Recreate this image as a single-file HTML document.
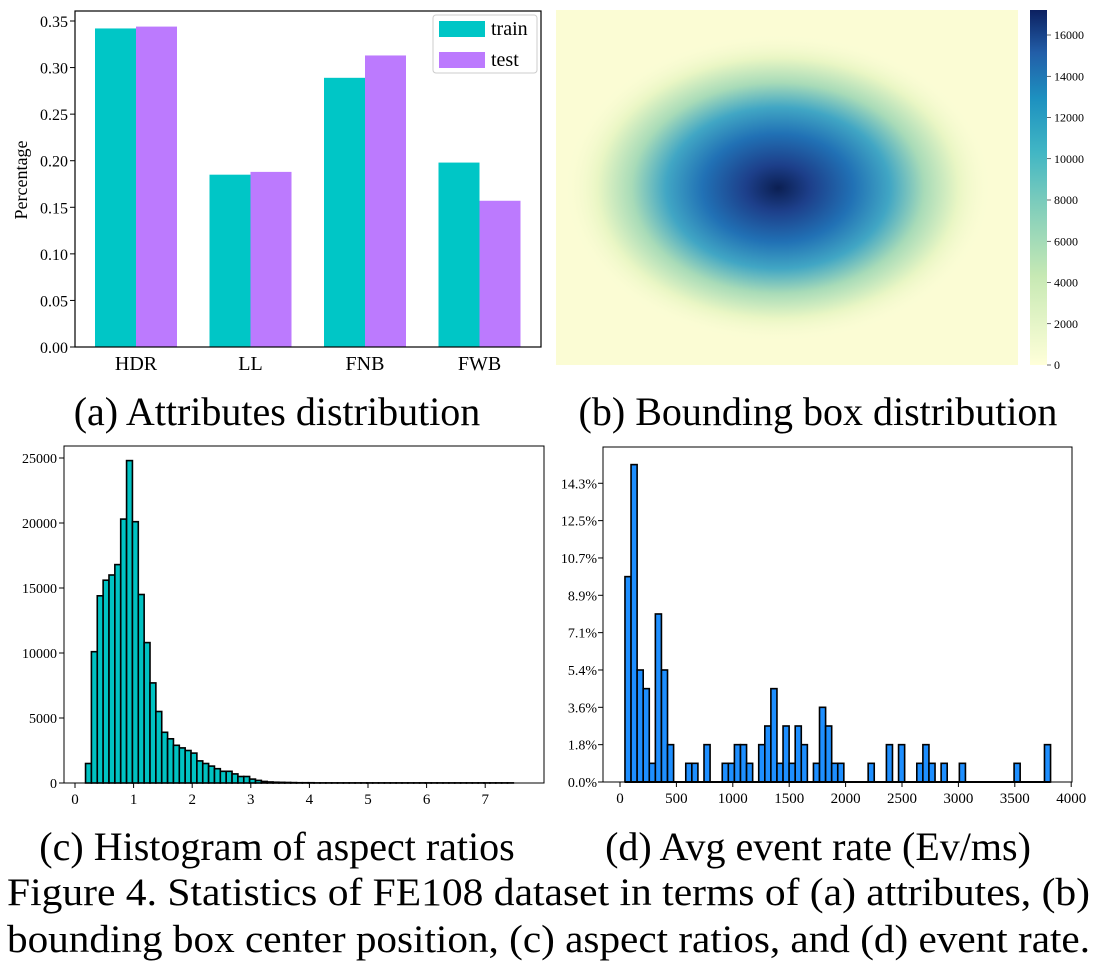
<!DOCTYPE html>
<html><head><meta charset="utf-8"><style>
body{margin:0;background:#fff;width:1099px;height:966px;overflow:hidden}
svg{font-family:"Liberation Serif",serif}
</style></head><body>
<svg id="s" width="1099" height="966">
<defs>
<radialGradient id="hm" cx="0.5" cy="0.5" r="0.5">
<stop offset="0" stop-color="#0b1f52"/><stop offset="0.15" stop-color="#1d3f8a"/>
<stop offset="0.35" stop-color="#2171b5"/><stop offset="0.52" stop-color="#41a6c4"/>
<stop offset="0.68" stop-color="#a8dbb8"/><stop offset="0.84" stop-color="#e9f6c4"/>
<stop offset="1" stop-color="#fbfcd6" stop-opacity="0"/></radialGradient>
<linearGradient id="cb" x1="0" y1="1" x2="0" y2="0">
<stop offset="0" stop-color="#ffffd9"/><stop offset="0.25" stop-color="#c7e9b4"/>
<stop offset="0.45" stop-color="#7fcdbb"/><stop offset="0.6" stop-color="#41b6c4"/>
<stop offset="0.75" stop-color="#1d91c0"/><stop offset="0.88" stop-color="#225ea8"/>
<stop offset="1" stop-color="#0c2060"/></linearGradient>
</defs>
<g id="pa"></g>
<g>
<rect x="556" y="10" width="462" height="355" fill="#fbfcd4"/>
<ellipse cx="778" cy="188" rx="215" ry="155" fill="url(#hm)"/>
<rect x="1030" y="10" width="17" height="355" fill="url(#cb)"/>
</g>
<g id="cbt"></g>
<g id="pc"></g>
<g id="pd"></g>
<g font-size="40" text-anchor="middle">
<text x="277" y="425">(a) Attributes distribution</text>
<text x="818" y="425">(b) Bounding box distribution</text>
<text x="277" y="860">(c) Histogram of aspect ratios</text>
<text x="818" y="860">(d) Avg event rate (Ev/ms)</text>
</g>
<g font-size="39">
<text x="7" y="905" textLength="1083" lengthAdjust="spacingAndGlyphs">Figure 4. Statistics of FE108 dataset in terms of (a) attributes, (b)</text>
<text x="7" y="952" textLength="1083" lengthAdjust="spacingAndGlyphs">bounding box center position, (c) aspect ratios, and (d) event rate.</text>
</g>
</svg>
<script>
const catsA=["HDR","LL","FNB","FWB"];
const trainA=[0.342,0.185,0.289,0.198];
const testA=[0.344,0.188,0.313,0.157];
const ticksA=[0,0.05,0.1,0.15,0.2,0.25,0.3,0.35];
const cbTicks=[0,2000,4000,6000,8000,10000,12000,14000,16000];
const histC=[1.5,10.1,14.4,15.6,16.0,16.8,20.3,24.8,20.1,14.5,10.8,7.7,5.5,3.9,3.4,2.9,2.7,2.5,2.3,1.7,1.5,1.3,1.1,0.9,0.9,0.7,0.5,0.5,0.3,0.2,0.12,0.08,0.06,0.05,0.04,0.03,0.02,0.02,0.02,0.01,0.01,0.01,0.01,0.01,0.01,0.01,0.01,0.01,0.01,0.01,0.01,0.01,0.01,0.01,0.01,0.01,0.01,0.01,0.01,0.01,0.01,0.01,0.01,0.01,0.01,0.01,0.01,0.01,0.01,0.01,0.01,0.01,0.01];
const ticksCx=[0,1,2,3,4,5,6,7];
const ticksCy=[0,5000,10000,15000,20000,25000];
const countsD=[11,17,6,5,1,9,6,2,0,0,1,1,0,2,0,0,1,1,2,2,1,0,2,3,5,1,3,1,3,2,0,1,4,3,1,1,0,0,0,0,1,0,0,2,0,2,0,0,1,2,1,0,1,0,0,1,0,0,0,0,0,0,0,0,1,0,0,0,0,2];
const ticksDx=[0,500,1000,1500,2000,2500,3000,3500,4000];
const ticksDy=["0.0%","1.8%","3.6%","5.4%","7.1%","8.9%","10.7%","12.5%","14.3%"];
const NS="http://www.w3.org/2000/svg";
function mk(p,t,a,txt){const e=document.createElementNS(NS,t);for(const k in a)e.setAttribute(k,a[k]);if(txt!==undefined)e.textContent=txt;p.appendChild(e);return e;}
// (a)
const pa=document.getElementById('pa');
const ya=v=>347-v*(347-21)/0.35;
const xa=i=>136+i*114.5;
catsA.forEach((c,i)=>{
 let r=mk(pa,'rect',{x:xa(i)-41,y:ya(trainA[i]),width:41,height:347-ya(trainA[i]),fill:'#00c6c6'});
 
 
 r=mk(pa,'rect',{x:xa(i),y:ya(testA[i]),width:41,height:347-ya(testA[i]),fill:'#bc7afe'});
 
 
 const t=mk(pa,'text',{x:xa(i),y:370,'font-size':20,'text-anchor':'middle'},c);
 
 
});
mk(pa,'rect',{x:75,y:11,width:466,height:336,fill:'none',stroke:'#000','stroke-width':1.2});
ticksA.forEach(v=>{mk(pa,'line',{x1:70,x2:75,y1:ya(v),y2:ya(v),stroke:'#000'});
 const t=mk(pa,'text',{x:68,y:ya(v)+6,'font-size':16,'text-anchor':'end'},v.toFixed(2));
 
 });
const yt=mk(pa,'text',{x:0,y:0,'font-size':18,'text-anchor':'middle',transform:'translate(27,180) rotate(-90)'},'Percentage');


const lg=mk(pa,'g',{});


mk(lg,'rect',{x:433,y:15,width:104,height:58,fill:'#fff',stroke:'#ccc',rx:3});
mk(lg,'rect',{x:439,y:21,width:46,height:16,fill:'#00c6c6'});
mk(lg,'rect',{x:439,y:52,width:46,height:16,fill:'#bc7afe'});
mk(lg,'text',{x:491,y:35,'font-size':20},'train');
mk(lg,'text',{x:491,y:66,'font-size':20},'test');
// colorbar
const cbt=document.getElementById('cbt');
cbTicks.forEach(v=>{const y=365-v*(330/16000);
 mk(cbt,'line',{x1:1047,x2:1051,y1:y,y2:y,stroke:'#000','stroke-width':0.6});
 const t=mk(cbt,'text',{x:1054,y:y+4,'font-size':12},v);
 
 });
// (c)
const pc=document.getElementById('pc');
const xc=v=>75+v*58.6, yc=v=>783-v*1000*(325/25000);
histC.forEach((h,i)=>{const x0=0.18+i*0.1;
 const r=mk(pc,'rect',{x:xc(x0),y:yc(h),width:58.6*0.1,height:783-yc(h),fill:'#00c2c2',stroke:'#000','stroke-width':1.6});
 
 });
mk(pc,'rect',{x:64,y:446,width:480,height:337,fill:'none',stroke:'#000','stroke-width':1});
ticksCx.forEach(v=>{mk(pc,'line',{x1:xc(v),x2:xc(v),y1:783,y2:788,stroke:'#000'});
 const t=mk(pc,'text',{x:xc(v),y:804,'font-size':15,'text-anchor':'middle'},v);
 
 });
ticksCy.forEach(v=>{const y=yc(v/1000);mk(pc,'line',{x1:59,x2:64,y1:y,y2:y,stroke:'#000'});
 const t=mk(pc,'text',{x:57,y:y+5,'font-size':14,'text-anchor':'end'},v);
 
 });
// (d)
const pd=document.getElementById('pd');
const xd=v=>620+v*0.1128, yd=c=>782-c*18.67, bw=53.9;
countsD.forEach((c,i)=>{if(!c)return;const x0=44+i*bw;
 const r=mk(pd,'rect',{x:xd(x0),y:yd(c),width:bw*0.1128,height:782-yd(c),fill:'#1e8fff',stroke:'#000','stroke-width':1.6});
 
 });
mk(pd,'line',{x1:xd(44),x2:xd(44+70*bw),y1:782,y2:782,stroke:'#000','stroke-width':2});
mk(pd,'rect',{x:603,y:447,width:469,height:335,fill:'none',stroke:'#000','stroke-width':1});
ticksDx.forEach(v=>{mk(pd,'line',{x1:xd(v),x2:xd(v),y1:782,y2:787,stroke:'#000'});
 const t=mk(pd,'text',{x:xd(v),y:803,'font-size':15,'text-anchor':'middle'},v);
 
 });
ticksDy.forEach((s,i)=>{const y=yd(i*2);mk(pd,'line',{x1:598,x2:603,y1:y,y2:y,stroke:'#000'});
 const t=mk(pd,'text',{x:597,y:y+5,'font-size':14,'text-anchor':'end'},s);
 
 });
</script>
</body></html>
